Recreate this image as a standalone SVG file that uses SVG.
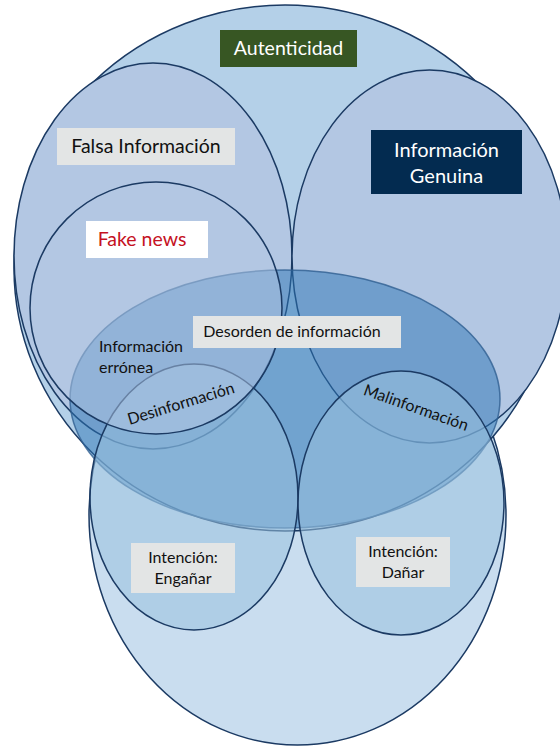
<svg xmlns="http://www.w3.org/2000/svg" width="560" height="746" viewBox="0 0 560 746">
<style>
.ln{stroke:#1b3a63;stroke-width:1.5}
.solid{fill:#b3c7e3}
.soft{fill:#99c1df;fill-opacity:0.55}
.t{font-family:Lato,"Open Sans","Liberation Sans",sans-serif;font-size:16px;fill:#111}
.big{font-size:19.5px}
.box{fill:#e3e5e5}
.w{fill:#ffffff}
.mid{text-anchor:middle}
</style>
<rect width="560" height="746" fill="#ffffff"/>
<g id="intencion">
<ellipse cx="297.5" cy="515" rx="208.5" ry="230" fill="#c9ddef" class="ln"/>
</g>
<g id="autenticidad">
<ellipse cx="285" cy="268" rx="271" ry="263" fill="#b4d0e8" class="ln"/>
</g>
<g id="falsa-informacion">
<ellipse cx="153" cy="256" rx="139" ry="193" class="ln solid"/>
</g>
<g id="informacion-genuina">
<ellipse cx="429.5" cy="256.5" rx="137.5" ry="186.5" class="ln solid"/>
</g>
<g id="desorden-de-informacion">
<ellipse cx="285" cy="399" rx="215" ry="129" fill="#2e75b6" fill-opacity="0.5" stroke="#2f5f91" stroke-opacity="0.8" stroke-width="1.5"/>
</g>
<g id="desinformacion">
<ellipse cx="194" cy="497" rx="104" ry="133" class="ln soft"/>
</g>
<g id="malinformacion">
<ellipse cx="401" cy="503" rx="103" ry="132" class="ln soft"/>
</g>
<g id="fake-news">
<ellipse cx="156" cy="308" rx="126" ry="126" fill="#b3c7e3" fill-opacity="0.5" class="ln"/>
</g>
<g id="labels">
<g id="label-autenticidad">
<rect x="220" y="30" width="137" height="37" fill="#375623"/>
<text x="288.5" y="55" class="t big w mid">Autenticidad</text>
</g>
<g id="label-falsa-informacion">
<rect x="57" y="128" width="178" height="37" class="box"/>
<text x="146" y="153" class="t big mid">Falsa Información</text>
</g>
<g id="label-informacion-genuina">
<rect x="371" y="130" width="151" height="64" fill="#032b50"/>
<text x="446.5" y="157" class="t big w mid" style="font-size:20px">Información</text>
<text x="446.5" y="183" class="t big w mid" style="font-size:20px">Genuina</text>
</g>
<g id="label-fake-news">
<rect x="86" y="221" width="122" height="37" fill="#ffffff"/>
<text x="142" y="246" class="t big mid" style="fill:#c5121f">Fake news</text>
</g>
<g id="label-desorden">
<rect x="193" y="316" width="208" height="32" class="box"/>
<text x="292" y="337" class="t mid">Desorden de información</text>
</g>
<g id="label-informacion-erronea">
<text x="99" y="352" class="t">Información</text>
<text x="99" y="373" class="t">errónea</text>
</g>
<g id="label-desinformacion">
<text x="181" y="409" class="t mid" transform="rotate(-17 181 404)">Desinformación</text>
</g>
<g id="label-malinformacion">
<text x="416" y="413" class="t mid" transform="rotate(19.5 416 408)">Malinformación</text>
</g>
<g id="label-enganar">
<rect x="131" y="543" width="104" height="50" class="box"/>
<text x="183" y="563" class="t mid">Intención:</text>
<text x="183" y="584" class="t mid">Engañar</text>
</g>
<g id="label-danar">
<rect x="356" y="537" width="94" height="50" class="box"/>
<text x="403" y="557" class="t mid">Intención:</text>
<text x="403" y="578" class="t mid">Dañar</text>
</g>
</g>
</svg>
